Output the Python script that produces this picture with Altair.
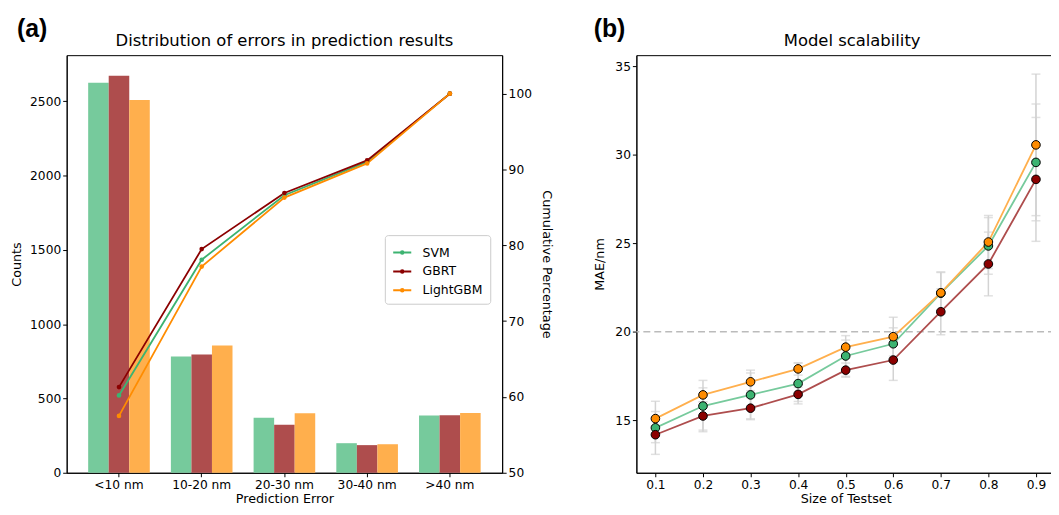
import altair as alt
import pandas as pd

# ---------------- data: panel (a) ----------------
categories = ['<10 nm', '10-20 nm', '20-30 nm', '30-40 nm', '>40 nm']
models = ['SVM', 'GBRT', 'LightGBM']
svm_counts = [2625, 782, 371, 199, 385]
gbrt_counts = [2672, 796, 323, 186, 387]
lgbm_counts = [2508, 857, 400, 192, 402]
svm_cum = [60.2, 78.1, 86.6, 91.0, 100.0]
gbrt_cum = [61.3, 79.5, 86.9, 91.2, 100.0]
lgbm_cum = [57.5, 77.2, 86.3, 90.8, 100.0]

# ---------------- data: panel (b) ----------------
test_sizes = [0.1, 0.2, 0.3, 0.4, 0.5, 0.6, 0.7, 0.8, 0.9]
svm_mae = [14.57, 15.80, 16.43, 17.07, 18.63, 19.32, 22.18, 24.85, 29.57]
gbrt_mae = [14.18, 15.24, 15.68, 16.46, 17.83, 18.40, 21.13, 23.83, 28.61]
lgbm_mae = [15.09, 16.43, 17.17, 17.90, 19.13, 19.72, 22.20, 25.07, 30.56]
svm_err = [1.50, 1.45, 1.40, 1.15, 1.15, 0.90, 1.20, 1.60, 3.30]
gbrt_err = [0.45, 0.80, 0.60, 0.40, 0.40, 1.15, 1.30, 1.80, 3.50]
lgbm_err = [0.40, 0.40, 0.50, 0.35, 0.40, 1.10, 1.15, 1.50, 4.00]

full_colors = ['#3cb371', '#8b0000', '#ff8c00']
light_colors = ['#76ca9c', '#ae4d4d', '#ffaf4d']

rows_a = []
for m, cnt, cum in zip(models, [svm_counts, gbrt_counts, lgbm_counts], [svm_cum, gbrt_cum, lgbm_cum]):
    for c, v, p in zip(categories, cnt, cum):
        rows_a.append({'category': c, 'model': m, 'count': v, 'cum': p})
df_a = pd.DataFrame(rows_a)

rows_b = []
for m, mae, err in zip(models, [svm_mae, gbrt_mae, lgbm_mae], [svm_err, gbrt_err, lgbm_err]):
    for s, v, e in zip(test_sizes, mae, err):
        rows_b.append({'size': s, 'model': m, 'mae': v, 'lo': v - e, 'hi': v + e})
df_b = pd.DataFrame(rows_b)

FONT = 'DejaVu Sans'
W_A, W_B, H = 438, 421, 420

# ---------------- panel (a) ----------------
xa = alt.X('category:N', sort=categories, title='Prediction Error',
           scale=alt.Scale(paddingInner=0.255, paddingOuter=0.26),
           axis=alt.Axis(labelAngle=0, titlePadding=2))

bars = alt.Chart(df_a).mark_bar().encode(
    x=xa,
    xOffset=alt.XOffset('model:N', sort=models, scale=alt.Scale(paddingInner=0, paddingOuter=0)),
    y=alt.Y('count:Q', title='Counts',
            scale=alt.Scale(domain=[0, 2810], nice=False),
            axis=alt.Axis(orient='left', values=[0, 500, 1000, 1500, 2000, 2500], format='d',
                          titlePadding=6)),
    color=alt.Color('model:N', sort=models,
                    scale=alt.Scale(domain=models, range=light_colors), legend=None),
)

lines_a = alt.Chart(df_a).mark_line(strokeWidth=1.8, point=alt.OverlayMarkDef(size=22, filled=True)).encode(
    x=xa,
    y=alt.Y('cum:Q', title='Cumulative Percentage',
            scale=alt.Scale(domain=[50, 105.08], nice=False, zero=False),
            axis=alt.Axis(orient='right', values=[50, 60, 70, 80, 90, 100], titlePadding=8)),
    color=alt.Color('model:N', sort=models,
                    scale=alt.Scale(domain=models, range=full_colors),
                    legend=alt.Legend(title=None, orient='none', legendX=320, legendY=181,
                                      symbolType='M-1,0L1,0M0.14,0A0.14,0.14 0 1,1 -0.14,0A0.14,0.14 0 1,1 0.14,0',
                                      symbolSize=330, symbolStrokeWidth=2, symbolOpacity=1,
                                      labelFontSize=12.5, labelFont=FONT, labelOffset=10,
                                      rowPadding=2, padding=7, fillColor='white',
                                      strokeColor='#cccccc', cornerRadius=3)),
)

lab_a = alt.Chart(pd.DataFrame({'t': ['(a)']})).mark_text(
    font='Liberation Sans', fontSize=25, fontWeight='bold', align='left', baseline='alphabetic'
).encode(x=alt.value(-50), y=alt.value(-18), text='t:N')

title_a = alt.Chart(pd.DataFrame({'t': ['Distribution of errors in prediction results']})).mark_text(
    font=FONT, fontSize=16.5, align='center', baseline='alphabetic'
).encode(x=alt.value(W_A / 2), y=alt.value(-9), text='t:N')

panel_a = alt.layer(bars, lines_a, lab_a, title_a).resolve_scale(
    y='independent', color='independent'
).properties(width=W_A, height=H)

# ---------------- panel (b) ----------------
xb = alt.X('size:Q', title='Size of Testset',
           scale=alt.Scale(domain=[0.06, 0.94], nice=False, zero=False),
           axis=alt.Axis(values=test_sizes, format='.1f', titlePadding=2))
yscale_b = alt.Scale(domain=[12.03, 35.63], nice=False, zero=False)

hline = alt.Chart(pd.DataFrame({'v': [20]})).mark_rule(
    color='#bbbbbb', strokeDash=[7, 4], strokeWidth=1.6
).encode(y=alt.Y('v:Q', scale=yscale_b))

err_rule = alt.Chart(df_b).mark_rule(color='#d3d3d3', strokeWidth=1.5).encode(
    x=xb, y=alt.Y('lo:Q', scale=yscale_b), y2='hi:Q')
cap_lo = alt.Chart(df_b).mark_tick(color='#d3d3d3', size=9, thickness=1.5, orient='horizontal').encode(
    x=xb, y=alt.Y('lo:Q', scale=yscale_b))
cap_hi = alt.Chart(df_b).mark_tick(color='#d3d3d3', size=9, thickness=1.5, orient='horizontal').encode(
    x=xb, y=alt.Y('hi:Q', scale=yscale_b))

lines_b = alt.Chart(df_b).mark_line(strokeWidth=1.8).encode(
    x=xb,
    y=alt.Y('mae:Q', title='MAE/nm', scale=yscale_b,
            axis=alt.Axis(values=[15, 20, 25, 30, 35], titlePadding=8)),
    color=alt.Color('model:N', sort=models,
                    scale=alt.Scale(domain=models, range=light_colors), legend=None),
)

pts_b = alt.Chart(df_b).mark_circle(size=75, stroke='black', strokeWidth=1, opacity=1).encode(
    x=xb,
    y=alt.Y('mae:Q', scale=yscale_b),
    fill=alt.Fill('model:N', sort=models,
                  scale=alt.Scale(domain=models, range=full_colors),
                  legend=alt.Legend(title=None, orient='none', legendX=7, legendY=7,
                                    symbolType='circle', symbolSize=75,
                                    symbolStrokeColor='black', symbolStrokeWidth=1,
                                    labelFontSize=12.5, labelFont=FONT, labelOffset=14,
                                    rowPadding=5, padding=7, fillColor='white',
                                    strokeColor='#cccccc', cornerRadius=3)),
)

lab_b = alt.Chart(pd.DataFrame({'t': ['(b)']})).mark_text(
    font='Liberation Sans', fontSize=25, fontWeight='bold', align='left', baseline='alphabetic'
).encode(x=alt.value(-43), y=alt.value(-18), text='t:N')

title_b = alt.Chart(pd.DataFrame({'t': ['Model scalability']})).mark_text(
    font=FONT, fontSize=16.5, align='center', baseline='alphabetic'
).encode(x=alt.value(217), y=alt.value(-9), text='t:N')

panel_b = alt.layer(hline, err_rule, cap_lo, cap_hi, lines_b, pts_b, lab_b, title_b).properties(
    width=W_B, height=H)

chart = alt.hconcat(panel_a, panel_b, spacing=40).properties(
    padding={'left': 2, 'top': 7, 'right': -6, 'bottom': 0}
).configure_view(
    stroke='black', strokeWidth=1
).configure_axis(
    grid=False, domainColor='black', tickColor='black', tickSize=4, labelPadding=2,
    labelFont=FONT, labelFontSize=12.3, labelColor='black',
    titleFont=FONT, titleFontSize=12.8, titleFontWeight='normal', titleColor='black'
).configure_text(color='black')

chart.save('out.html', embed_options={'renderer': 'svg', 'actions': False})
